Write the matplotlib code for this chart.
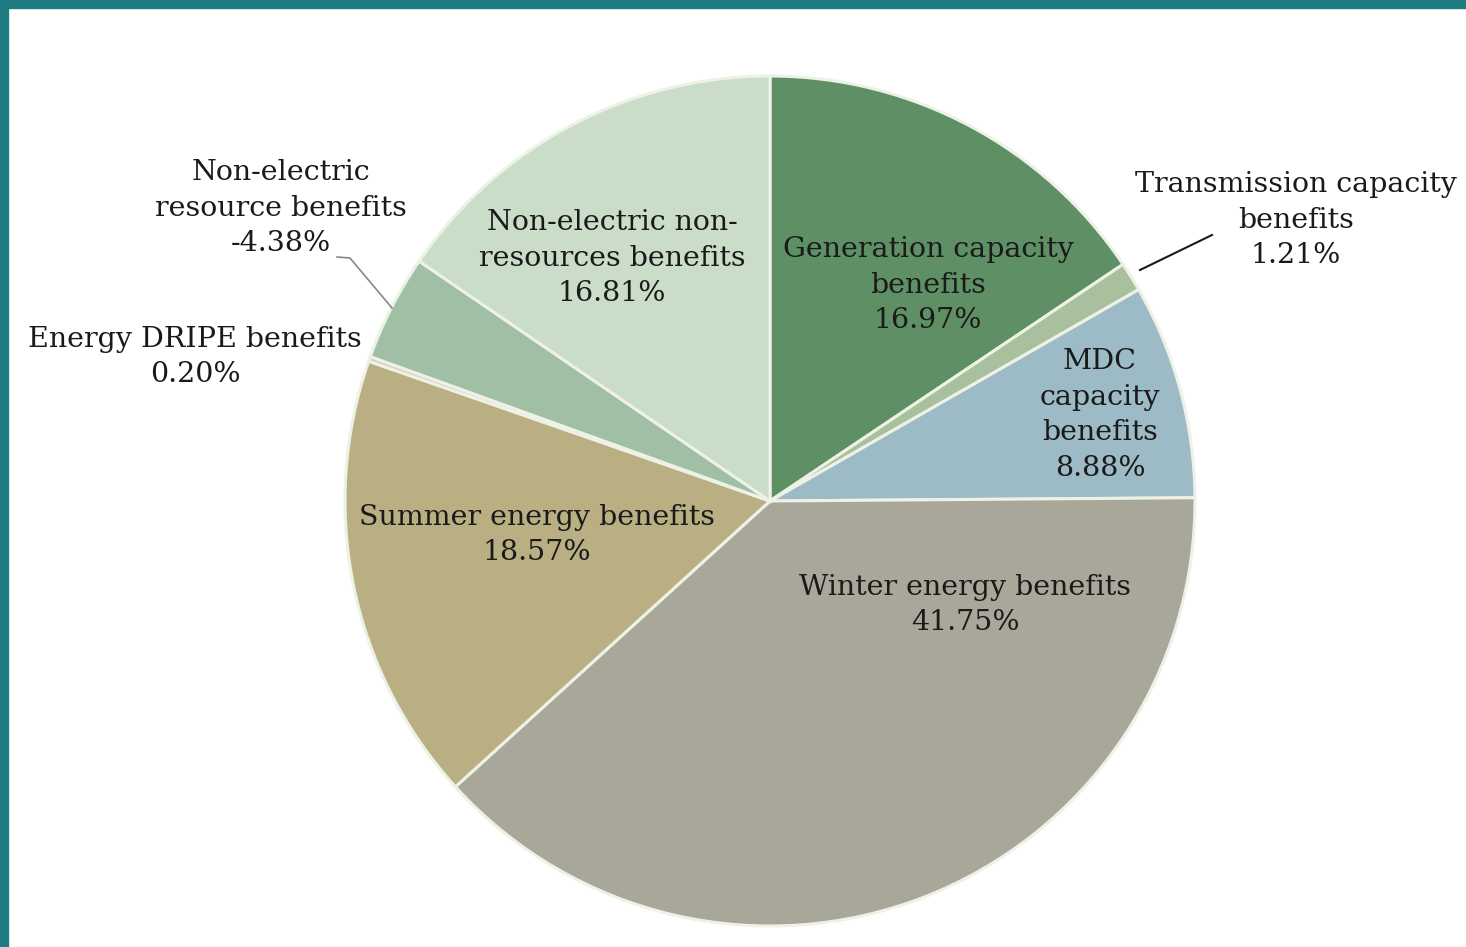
import matplotlib
matplotlib.use("Agg")
import matplotlib.pyplot as plt
from matplotlib.patches import Rectangle

categories = [
    "Generation capacity\nbenefits",
    "Transmission capacity\nbenefits",
    "MDC\ncapacity\nbenefits",
    "Winter energy benefits",
    "Summer energy benefits",
    "Energy DRIPE benefits",
    "Non-electric\nresource benefits",
    "Non-electric non-\nresources benefits",
]
values = [16.97, 1.21, 8.88, 41.75, 18.57, 0.20, -4.38, 16.81]
colors = ["#5f9065", "#a9c09f", "#9dbbc6", "#a9a799", "#b9af82",
          "#d9cfc0", "#a0bfa4", "#c9ddc9"]

W, H = 1466, 947
CX, CY, R = 770, 501, 425

fig = plt.figure(figsize=(W / 100, H / 100), dpi=100)
fig.patch.set_facecolor("white")
ax = fig.add_axes([0, 0, 1, 1])

sizes = [abs(v) for v in values]
wedges, _ = ax.pie(sizes, colors=colors, startangle=90, counterclock=False,
                   radius=1.0, center=(0, 0), frame=True,
                   wedgeprops=dict(edgecolor="#eef2e6", linewidth=2.2))
ax.set_xlim(-CX / R, (W - CX) / R)
ax.set_ylim(-(H - CY) / R, CY / R)
ax.set_aspect("auto")
ax.axis("off")

def px(x, y):
    return ((x - CX) / R, (CY - y) / R)

label_pos = [(928, 285), (1296, 220), (1100, 415), (965, 605),
             (537, 535), (195, 357), (281, 208), (612, 258)]
font = dict(family="DejaVu Serif", fontsize=20.5, color="#1a1a1a",
            ha="center", va="center", linespacing=1.42)
for cat, v, (x, y) in zip(categories, values, label_pos):
    ax.text(*px(x, y), f"{cat}\n{v:.2f}%", **font)

# leader lines
ax.plot(*zip(px(1140, 270), px(1212, 235)), color="#1a1a1a", lw=1.5)
ax.plot(*zip(px(337, 257), px(350, 258), px(392, 308)), color="#888888", lw=1.2)

# teal frame
fig.add_artist(Rectangle((0, 1 - 8 / H), 1, 8 / H, transform=fig.transFigure,
                         color="#1f7b82", zorder=10))
fig.add_artist(Rectangle((0, 0), 8 / W, 1, transform=fig.transFigure,
                         color="#1f7b82", zorder=10))

fig.savefig("out.png", dpi=100)
